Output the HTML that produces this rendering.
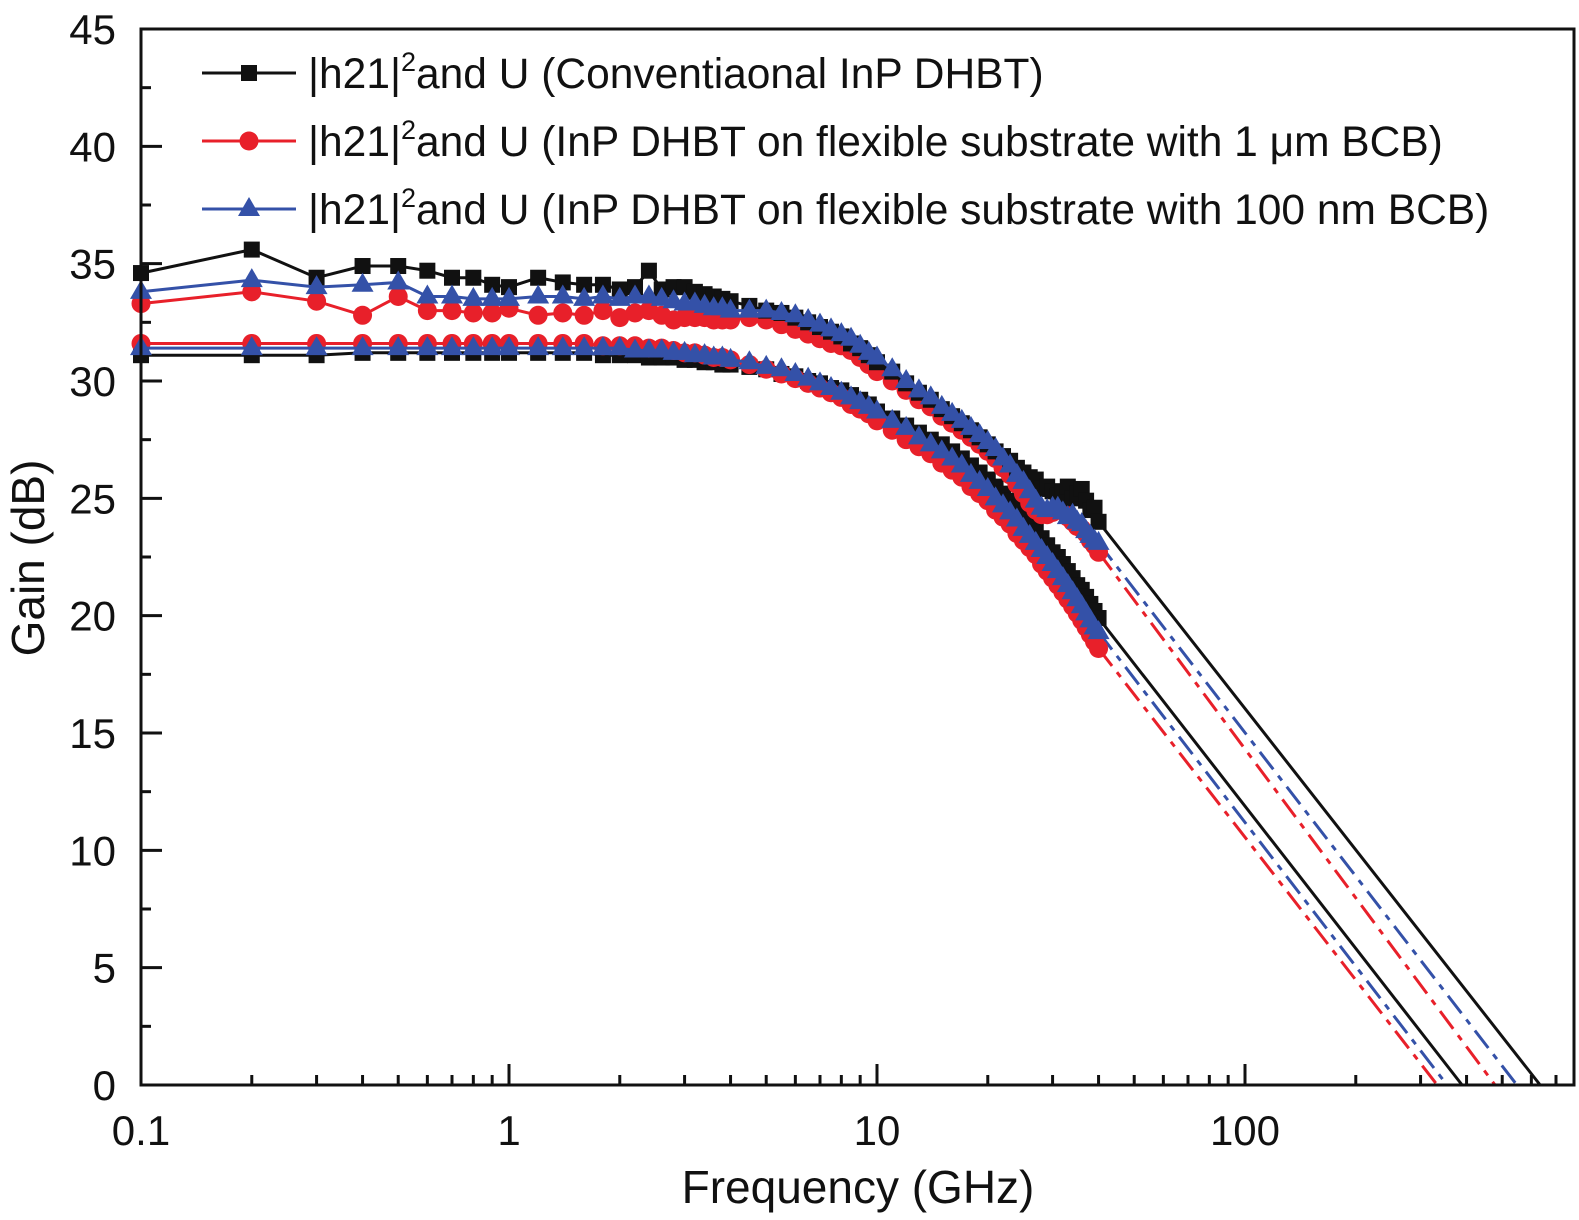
<!DOCTYPE html>
<html><head><meta charset="utf-8">
<style>
html,body{margin:0;padding:0;background:#fff;}
svg{display:block;font-family:"Liberation Sans",sans-serif;}
</style></head>
<body>
<svg id="chart" width="1579" height="1220" viewBox="0 0 1579 1220" xmlns="http://www.w3.org/2000/svg">
<g id="plot"></g>
</svg>
<script>
const freqs = [0.1,0.2,0.3,0.4,0.5,0.6,0.7,0.8,0.9,1.0,
1.2,1.4,1.6,1.8,2.0,2.2,2.4,2.6,2.8,3.0,3.2,3.4,3.6,3.8,4.0,
4.5,5,5.5,6,6.5,7,7.5,8,8.5,9,9.5,10,
11,12,13,14,15,16,17,18,19,20,21,22,23,24,25,26,27,28,29,30,31,32,33,34,35,36,37,38,39,40];
const blackU = [34.6,35.6,34.4,34.9,34.9,34.7,34.4,34.4,34.1,34.0,
34.4,34.2,34.1,34.1,33.9,34.0,34.7,33.9,34.0,34.0,33.8,33.7,33.6,33.5,33.4,
33.2,33.0,32.9,32.7,32.5,32.3,32.1,31.9,31.6,31.4,31.1,30.8,
30.4,29.9,29.5,29.2,28.8,28.5,28.2,27.9,27.6,27.3,27.0,26.8,26.6,26.3,26.1,25.9,25.8,25.4,25.5,25.3,25.1,25.3,25.5,25.0,25.2,25.4,24.9,24.5,24.6,24.0];
const redU = [33.3,33.8,33.4,32.8,33.6,33.0,33.0,32.9,32.9,33.1,
32.8,32.9,32.8,33.0,32.7,32.9,33.0,32.8,32.6,32.7,32.7,32.7,32.6,32.6,32.6,
32.7,32.6,32.4,32.2,32.0,31.8,31.6,31.5,31.3,31.0,30.7,30.4,
30.0,29.6,29.2,28.9,28.5,28.2,27.9,27.6,27.3,27.0,26.7,26.3,26.0,25.6,25.2,24.8,24.5,24.3,24.3,24.4,24.5,24.5,24.2,24.0,23.8,23.7,23.5,23.2,23.0,22.7];
const blueU = [33.8,34.3,34.0,34.1,34.2,33.6,33.6,33.5,33.5,33.5,
33.6,33.6,33.5,33.6,33.5,33.6,33.6,33.5,33.4,33.3,33.3,33.2,33.1,33.1,33.0,
33.0,33.0,32.9,32.8,32.6,32.4,32.2,32.0,31.8,31.5,31.2,31.0,
30.5,30.0,29.6,29.3,28.9,28.6,28.3,28.0,27.7,27.4,27.1,26.7,26.4,26.0,25.7,25.3,24.9,24.6,24.5,24.6,24.6,24.4,24.2,24.3,24.0,23.9,23.6,23.4,23.2,23.1];
const blackH = [31.1,31.1,31.1,31.2,31.2,31.2,31.2,31.2,31.2,31.2,
31.2,31.2,31.2,31.1,31.1,31.1,31.0,31.0,31.0,30.9,30.9,30.8,30.8,30.7,30.7,
30.6,30.5,30.3,30.2,30.0,29.9,29.7,29.6,29.4,29.2,29.0,28.7,
28.4,28.1,27.8,27.5,27.3,27.0,26.7,26.4,26.1,25.8,25.5,25.2,24.9,24.6,24.2,23.9,23.6,23.3,23.0,22.7,22.5,22.2,21.9,21.6,21.3,21.1,20.8,20.5,20.2,19.9];
const redH = [31.6,31.6,31.6,31.6,31.6,31.6,31.6,31.6,31.6,31.6,
31.6,31.6,31.6,31.5,31.5,31.5,31.4,31.4,31.3,31.2,31.2,31.1,31.0,31.0,30.9,
30.7,30.5,30.3,30.1,29.9,29.7,29.5,29.3,29.0,28.8,28.6,28.3,
27.9,27.5,27.2,26.9,26.5,26.2,25.9,25.5,25.2,24.9,24.5,24.2,23.9,23.5,23.2,22.9,22.6,22.2,21.9,21.6,21.3,21.0,20.7,20.4,20.1,19.8,19.5,19.2,18.9,18.6];
const blueH = [31.4,31.4,31.4,31.4,31.4,31.4,31.4,31.4,31.4,31.4,
31.4,31.4,31.4,31.4,31.4,31.3,31.3,31.3,31.2,31.2,31.1,31.1,31.0,31.0,30.9,
30.8,30.6,30.5,30.3,30.1,29.9,29.7,29.5,29.3,29.1,28.9,28.7,
28.3,28.0,27.6,27.3,27.0,26.7,26.4,26.0,25.7,25.4,25.0,24.7,24.4,24.1,23.7,23.4,23.1,22.8,22.5,22.2,21.9,21.6,21.3,21.0,20.7,20.4,20.1,19.8,19.5,19.3];
// extrapolated 0 dB crossing frequencies (GHz)
const fmaxU = [634, 478, 548];   // black, red, blue
const ftH = [389, 333, 354];     // black, red, blue
const yTicks = [0,5,10,15,20,25,30,35,40,45];
const xTicks = [0.1,1,10,100];
const xTickLabels = ["0.1","1","10","100"];
const legendLabels = ["Conventiaonal InP DHBT","InP DHBT on flexible substrate with 1 \u03bcm BCB","InP DHBT on flexible substrate with 100 nm BCB"];

const L=141,R=1574,T=29,B=1085;
const X0=0.1, DEC=368;
function xs(f){return L+Math.log10(f/X0)*DEC;}
function ys(v){return B-(v/45)*(B-T);}
const NS="http://www.w3.org/2000/svg";
const svg=document.getElementById('chart');
const plot=document.getElementById('plot');
function mk(tag,attrs,parent){const e=document.createElementNS(NS,tag);for(const k in attrs)e.setAttribute(k,attrs[k]);(parent||svg).appendChild(e);return e;}

const colors=["#111111","#e8202a","#3451a8"];
const shapes=["square","circle","triangle"];
function marker(shape,x,y,col,parent){
  let e;
  if(shape==="square") e=mk('rect',{x:x-8,y:y-8,width:16,height:16,fill:col},parent);
  else if(shape==="circle") e=mk('circle',{cx:x,cy:y,r:9.5,fill:col},parent);
  else e=mk('polygon',{points:`${x},${y-12} ${x+11},${y+7} ${x-11},${y+7}`,fill:col},parent);
  return e;
}
function series(vals,idx,name){
  const g=mk('g',{},plot);
  
  
  const d=vals.map((v,i)=>(i?'L':'M')+xs(freqs[i]).toFixed(1)+','+ys(v).toFixed(1)).join(' ');
  const p=mk('path',{d:d,fill:'none',stroke:colors[idx],'stroke-width':3},g);
  
  
  vals.forEach((v,i)=>{
    const m=marker(shapes[idx],xs(freqs[i]),ys(v),colors[idx],g);
    
    
  });
}
function extrap(v0,fz,idx,name){
  const dash = idx===0 ? null : '22,8,6,8';
  const a={x1:xs(freqs[freqs.length-1]),y1:ys(v0),x2:xs(fz),y2:ys(0),stroke:colors[idx],'stroke-width':3};
  if(dash)a['stroke-dasharray']=dash;
  const l=mk('line',a,plot);
  
  
}
const Us=[blackU,redU,blueU], Hs=[blackH,redH,blueH];
const nm=["conventional","bcb-1um","bcb-100nm"];
for(let i=0;i<3;i++){extrap(Us[i][Us[i].length-1],fmaxU[i],i,'u-extrapolation-'+nm[i]);extrap(Hs[i][Hs[i].length-1],ftH[i],i,'h21-extrapolation-'+nm[i]);}
[0,1,2].forEach(i=>series(Hs[i],i,'h21-'+nm[i]));
[1,0,2].forEach(i=>series(Us[i],i,'u-'+nm[i]));

const fr=mk('rect',{x:L,y:T,width:R-L,height:B-T,fill:'none',stroke:'#111','stroke-width':3});


for(let v=0;v<=45;v+=2.5){
  const major=(v%5===0);
  const t=mk('line',{x1:L,x2:L+(major?21:10),y1:ys(v),y2:ys(v),stroke:'#111','stroke-width':3});
  
  
}
yTicks.forEach(v=>{
  const t=mk('text',{x:116,y:ys(v)+15,'text-anchor':'end','font-size':42,fill:'#111'});
  t.textContent=String(v);
  
  
});
for(let dec=0.1;dec<1000;dec*=10){
  for(let k=1;k<10;k++){
    const f=dec*k; const x=xs(f); if(x>R-2)break;
    const t=mk('line',{x1:x,x2:x,y1:B,y2:B-(k===1?21:10),stroke:'#111','stroke-width':3});
    
    
  }
}
xTicks.forEach((f,i)=>{
  const t=mk('text',{x:xs(f),y:1145,'text-anchor':'middle','font-size':42,fill:'#111'});
  t.textContent=xTickLabels[i];
  
  
});
const xt=mk('text',{x:858,y:1203,'text-anchor':'middle','font-size':46,fill:'#111'});
xt.textContent='Frequency (GHz)';


const yt=mk('text',{x:0,y:0,'text-anchor':'middle','font-size':46,fill:'#111',transform:'translate(44,558) rotate(-90)'});
yt.textContent='Gain (dB)';


const lg=mk('g',{});


const ly=[73,141,209];
for(let i=0;i<3;i++){
  const ge=mk('g',{},lg);
  
  
  mk('line',{x1:202,x2:296,y1:ly[i],y2:ly[i],stroke:colors[i],'stroke-width':3},ge);
  marker(shapes[i],249,ly[i],colors[i],ge);
  const t=mk('text',{x:308,y:ly[i]+15,'font-size':42.5,fill:'#111'},ge);
  t.innerHTML='|h21|<tspan dy="-17" font-size="27">2</tspan><tspan dy="17">and U ('+legendLabels[i]+')</tspan>';
}
</script>
</body></html>
